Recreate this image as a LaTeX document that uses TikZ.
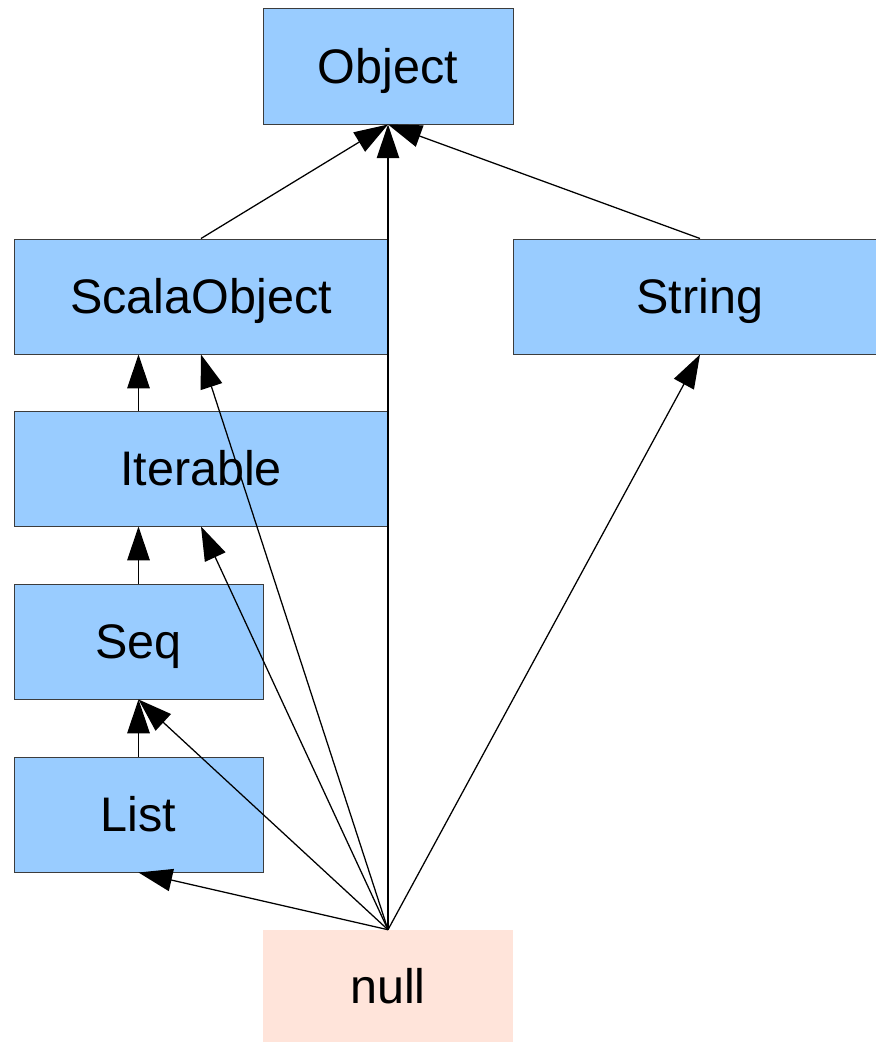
\documentclass[tikz,border=0pt]{standalone}
\usepackage{fontspec}
\setmainfont{Liberation Sans}
\usepackage{xcolor}
\usetikzlibrary{arrows.meta}

\definecolor{classblue}{RGB}{153,204,255}
\definecolor{nullpink}{RGB}{255,228,218}
\definecolor{boxline}{RGB}{60,60,60}

\begin{document}
\begin{tikzpicture}[x=0.025cm,y=-0.025cm,
	classbox/.style={rectangle, fill=classblue, draw=boxline, line width=.7pt, inner sep=0pt,
		text height=24.7pt, text depth=0pt, font=\fontsize{34.5}{40}\selectfont},
	nullbox/.style={rectangle, fill=nullpink, inner sep=0pt,
		text height=24.7pt, text depth=0pt, font=\fontsize{34.5}{40}\selectfont},
	isa/.style={-{Triangle[length=24pt,width=16pt]}, black, line width=.9pt}]

	\useasboundingbox (0,0) rectangle (876,1042);

	% Classes
	\node[classbox, minimum width=250*0.025cm, minimum height=116*0.025cm] (object) at (388,66) {Object};
	\node[classbox, minimum width=374*0.025cm, minimum height=115*0.025cm] (scalaobject) at (201,296.5) {ScalaObject};
	\node[classbox, minimum width=374*0.025cm, minimum height=115*0.025cm] (string) at (700,296.5) {String};
	\node[classbox, minimum width=374*0.025cm, minimum height=115*0.025cm] (iterable) at (201,468.5) {Iterable};
	\node[classbox, minimum width=249*0.025cm, minimum height=115*0.025cm] (seq) at (138.5,641.5) {Seq};
	\node[classbox, minimum width=249*0.025cm, minimum height=115*0.025cm] (list) at (138.5,814.5) {List};

	% Bottom type
	\node[nullbox, minimum width=250*0.025cm, minimum height=112*0.025cm] (null) at (388,986) {null};

	% Arrows up the chain
	\draw[isa] (list.north) -- (seq.south);
	\draw[isa] (seq.north) -- (seq.north |- iterable.south);
	\draw[isa] (seq.north |- iterable.north) -- (seq.north |- scalaobject.south);
	\draw[isa] (scalaobject.north) -- (object.south);
	\draw[isa] (string.north) -- (object.south);

	% Arrows from null
	\draw[isa] (null.north) -- (list.south);
	\draw[isa] (null.north) -- (seq.south);
	\draw[isa] (null.north) -- (iterable.south);
	\draw[isa] (null.north) -- (scalaobject.south);
	\draw[isa] (null.north) -- (object.south);
	\draw[isa] (null.north) -- (string.south);

\end{tikzpicture}
\end{document}
